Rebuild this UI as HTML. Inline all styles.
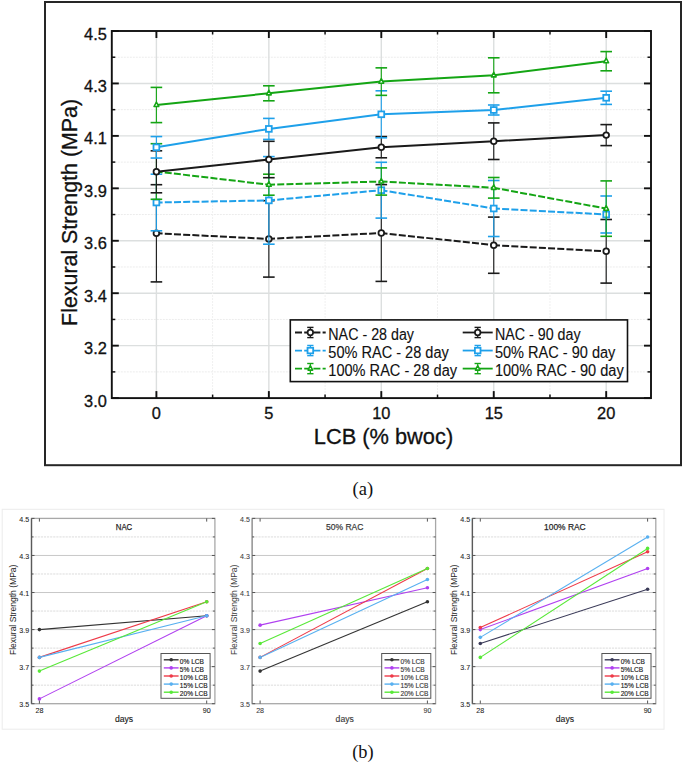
<!DOCTYPE html><html><head><meta charset="utf-8"><style>html,body{margin:0;padding:0;background:#fff}body{width:685px;height:764px;position:relative;overflow:hidden;font-family:"Liberation Sans",sans-serif}</style></head><body><svg width="685" height="764" viewBox="0 0 685 764" style="position:absolute;left:0;top:0">
<rect width="685" height="764" fill="#fff"/>
<rect x="45" y="2" width="636" height="463.2" fill="none" stroke="#262626" stroke-width="2"/>
<line x1="111.8" x2="651.0" y1="83.44" y2="83.44" stroke="#dcdfdf" stroke-width="1.4"/>
<line x1="111.8" x2="651.0" y1="135.89" y2="135.89" stroke="#dcdfdf" stroke-width="1.4"/>
<line x1="111.8" x2="651.0" y1="188.33" y2="188.33" stroke="#dcdfdf" stroke-width="1.4"/>
<line x1="111.8" x2="651.0" y1="240.77" y2="240.77" stroke="#dcdfdf" stroke-width="1.4"/>
<line x1="111.8" x2="651.0" y1="293.21" y2="293.21" stroke="#dcdfdf" stroke-width="1.4"/>
<line x1="111.8" x2="651.0" y1="345.66" y2="345.66" stroke="#dcdfdf" stroke-width="1.4"/>
<line x1="111.8" x2="651.0" y1="57.22" y2="57.22" stroke="#ececec" stroke-width="1" stroke-dasharray="2 1"/>
<line x1="111.8" x2="651.0" y1="109.66" y2="109.66" stroke="#ececec" stroke-width="1" stroke-dasharray="2 1"/>
<line x1="111.8" x2="651.0" y1="162.11" y2="162.11" stroke="#ececec" stroke-width="1" stroke-dasharray="2 1"/>
<line x1="111.8" x2="651.0" y1="214.55" y2="214.55" stroke="#ececec" stroke-width="1" stroke-dasharray="2 1"/>
<line x1="111.8" x2="651.0" y1="266.99" y2="266.99" stroke="#ececec" stroke-width="1" stroke-dasharray="2 1"/>
<line x1="111.8" x2="651.0" y1="319.44" y2="319.44" stroke="#ececec" stroke-width="1" stroke-dasharray="2 1"/>
<line x1="111.8" x2="651.0" y1="371.88" y2="371.88" stroke="#ececec" stroke-width="1" stroke-dasharray="2 1"/>
<line x1="156.40" x2="156.40" y1="31.0" y2="398.1" stroke="#dcdfdf" stroke-width="1.4"/>
<line x1="268.85" x2="268.85" y1="31.0" y2="398.1" stroke="#dcdfdf" stroke-width="1.4"/>
<line x1="381.30" x2="381.30" y1="31.0" y2="398.1" stroke="#dcdfdf" stroke-width="1.4"/>
<line x1="493.75" x2="493.75" y1="31.0" y2="398.1" stroke="#dcdfdf" stroke-width="1.4"/>
<line x1="606.20" x2="606.20" y1="31.0" y2="398.1" stroke="#dcdfdf" stroke-width="1.4"/>
<line x1="212.62" x2="212.62" y1="31.0" y2="398.1" stroke="#f0f0f0" stroke-width="1" stroke-dasharray="2 1"/>
<line x1="325.07" x2="325.07" y1="31.0" y2="398.1" stroke="#f0f0f0" stroke-width="1" stroke-dasharray="2 1"/>
<line x1="437.52" x2="437.52" y1="31.0" y2="398.1" stroke="#f0f0f0" stroke-width="1" stroke-dasharray="2 1"/>
<line x1="549.98" x2="549.98" y1="31.0" y2="398.1" stroke="#f0f0f0" stroke-width="1" stroke-dasharray="2 1"/>
<line x1="156.40" y1="233.30" x2="268.85" y2="238.90" stroke="#1a1a1a" stroke-width="2" stroke-dasharray="7 2.2" stroke-dashoffset="0.8"/>
<line x1="268.85" y1="238.90" x2="381.30" y2="233.00" stroke="#1a1a1a" stroke-width="2" stroke-dasharray="7 2.2" stroke-dashoffset="0.8"/>
<line x1="381.30" y1="233.00" x2="493.75" y2="245.20" stroke="#1a1a1a" stroke-width="2" stroke-dasharray="7 2.2" stroke-dashoffset="0.8"/>
<line x1="493.75" y1="245.20" x2="606.20" y2="251.30" stroke="#1a1a1a" stroke-width="2" stroke-dasharray="7 2.2" stroke-dashoffset="0.8"/>
<line x1="156.40" x2="156.40" y1="184.70" y2="281.90" stroke="#1a1a1a" stroke-width="1.1"/>
<line x1="150.60" x2="162.20" y1="184.70" y2="184.70" stroke="#1a1a1a" stroke-width="1.6"/>
<line x1="150.60" x2="162.20" y1="281.90" y2="281.90" stroke="#1a1a1a" stroke-width="1.6"/>
<line x1="268.85" x2="268.85" y1="200.70" y2="277.10" stroke="#1a1a1a" stroke-width="1.1"/>
<line x1="263.05" x2="274.65" y1="200.70" y2="200.70" stroke="#1a1a1a" stroke-width="1.6"/>
<line x1="263.05" x2="274.65" y1="277.10" y2="277.10" stroke="#1a1a1a" stroke-width="1.6"/>
<line x1="381.30" x2="381.30" y1="184.60" y2="281.40" stroke="#1a1a1a" stroke-width="1.1"/>
<line x1="375.50" x2="387.10" y1="184.60" y2="184.60" stroke="#1a1a1a" stroke-width="1.6"/>
<line x1="375.50" x2="387.10" y1="281.40" y2="281.40" stroke="#1a1a1a" stroke-width="1.6"/>
<line x1="493.75" x2="493.75" y1="217.10" y2="273.30" stroke="#1a1a1a" stroke-width="1.1"/>
<line x1="487.95" x2="499.55" y1="217.10" y2="217.10" stroke="#1a1a1a" stroke-width="1.6"/>
<line x1="487.95" x2="499.55" y1="273.30" y2="273.30" stroke="#1a1a1a" stroke-width="1.6"/>
<line x1="606.20" x2="606.20" y1="219.50" y2="283.10" stroke="#1a1a1a" stroke-width="1.1"/>
<line x1="600.40" x2="612.00" y1="219.50" y2="219.50" stroke="#1a1a1a" stroke-width="1.6"/>
<line x1="600.40" x2="612.00" y1="283.10" y2="283.10" stroke="#1a1a1a" stroke-width="1.6"/>
<circle cx="156.40" cy="233.30" r="2.85" fill="#fff" stroke="#1a1a1a" stroke-width="1.75"/>
<circle cx="268.85" cy="238.90" r="2.85" fill="#fff" stroke="#1a1a1a" stroke-width="1.75"/>
<circle cx="381.30" cy="233.00" r="2.85" fill="#fff" stroke="#1a1a1a" stroke-width="1.75"/>
<circle cx="493.75" cy="245.20" r="2.85" fill="#fff" stroke="#1a1a1a" stroke-width="1.75"/>
<circle cx="606.20" cy="251.30" r="2.85" fill="#fff" stroke="#1a1a1a" stroke-width="1.75"/>
<line x1="156.40" y1="202.50" x2="268.85" y2="200.40" stroke="#1ea0ea" stroke-width="2" stroke-dasharray="7 2.2" stroke-dashoffset="0.8"/>
<line x1="268.85" y1="200.40" x2="381.30" y2="190.20" stroke="#1ea0ea" stroke-width="2" stroke-dasharray="7 2.2" stroke-dashoffset="0.8"/>
<line x1="381.30" y1="190.20" x2="493.75" y2="208.50" stroke="#1ea0ea" stroke-width="2" stroke-dasharray="7 2.2" stroke-dashoffset="0.8"/>
<line x1="493.75" y1="208.50" x2="606.20" y2="214.50" stroke="#1ea0ea" stroke-width="2" stroke-dasharray="7 2.2" stroke-dashoffset="0.8"/>
<line x1="156.40" x2="156.40" y1="174.20" y2="230.80" stroke="#1ea0ea" stroke-width="1.1"/>
<line x1="150.60" x2="162.20" y1="174.20" y2="174.20" stroke="#1ea0ea" stroke-width="1.6"/>
<line x1="150.60" x2="162.20" y1="230.80" y2="230.80" stroke="#1ea0ea" stroke-width="1.6"/>
<line x1="268.85" x2="268.85" y1="156.60" y2="244.20" stroke="#1ea0ea" stroke-width="1.1"/>
<line x1="263.05" x2="274.65" y1="156.60" y2="156.60" stroke="#1ea0ea" stroke-width="1.6"/>
<line x1="263.05" x2="274.65" y1="244.20" y2="244.20" stroke="#1ea0ea" stroke-width="1.6"/>
<line x1="381.30" x2="381.30" y1="162.30" y2="218.10" stroke="#1ea0ea" stroke-width="1.1"/>
<line x1="375.50" x2="387.10" y1="162.30" y2="162.30" stroke="#1ea0ea" stroke-width="1.6"/>
<line x1="375.50" x2="387.10" y1="218.10" y2="218.10" stroke="#1ea0ea" stroke-width="1.6"/>
<line x1="493.75" x2="493.75" y1="180.50" y2="236.50" stroke="#1ea0ea" stroke-width="1.1"/>
<line x1="487.95" x2="499.55" y1="180.50" y2="180.50" stroke="#1ea0ea" stroke-width="1.6"/>
<line x1="487.95" x2="499.55" y1="236.50" y2="236.50" stroke="#1ea0ea" stroke-width="1.6"/>
<line x1="606.20" x2="606.20" y1="196.00" y2="233.00" stroke="#1ea0ea" stroke-width="1.1"/>
<line x1="600.40" x2="612.00" y1="196.00" y2="196.00" stroke="#1ea0ea" stroke-width="1.6"/>
<line x1="600.40" x2="612.00" y1="233.00" y2="233.00" stroke="#1ea0ea" stroke-width="1.6"/>
<rect x="153.50" y="199.60" width="5.80" height="5.80" fill="#fff" stroke="#1ea0ea" stroke-width="1.8"/>
<rect x="265.95" y="197.50" width="5.80" height="5.80" fill="#fff" stroke="#1ea0ea" stroke-width="1.8"/>
<rect x="378.40" y="187.30" width="5.80" height="5.80" fill="#fff" stroke="#1ea0ea" stroke-width="1.8"/>
<rect x="490.85" y="205.60" width="5.80" height="5.80" fill="#fff" stroke="#1ea0ea" stroke-width="1.8"/>
<rect x="603.30" y="211.60" width="5.80" height="5.80" fill="#fff" stroke="#1ea0ea" stroke-width="1.8"/>
<line x1="156.40" y1="171.50" x2="268.85" y2="184.70" stroke="#14a514" stroke-width="2" stroke-dasharray="7 2.2" stroke-dashoffset="0.8"/>
<line x1="268.85" y1="184.70" x2="381.30" y2="181.50" stroke="#14a514" stroke-width="2" stroke-dasharray="7 2.2" stroke-dashoffset="0.8"/>
<line x1="381.30" y1="181.50" x2="493.75" y2="187.80" stroke="#14a514" stroke-width="2" stroke-dasharray="7 2.2" stroke-dashoffset="0.8"/>
<line x1="493.75" y1="187.80" x2="606.20" y2="208.60" stroke="#14a514" stroke-width="2" stroke-dasharray="7 2.2" stroke-dashoffset="0.8"/>
<line x1="156.40" x2="156.40" y1="143.70" y2="199.30" stroke="#14a514" stroke-width="1.1"/>
<line x1="150.60" x2="162.20" y1="143.70" y2="143.70" stroke="#14a514" stroke-width="1.6"/>
<line x1="150.60" x2="162.20" y1="199.30" y2="199.30" stroke="#14a514" stroke-width="1.6"/>
<line x1="268.85" x2="268.85" y1="174.20" y2="195.20" stroke="#14a514" stroke-width="1.1"/>
<line x1="263.05" x2="274.65" y1="174.20" y2="174.20" stroke="#14a514" stroke-width="1.6"/>
<line x1="263.05" x2="274.65" y1="195.20" y2="195.20" stroke="#14a514" stroke-width="1.6"/>
<line x1="381.30" x2="381.30" y1="167.90" y2="195.10" stroke="#14a514" stroke-width="1.1"/>
<line x1="375.50" x2="387.10" y1="167.90" y2="167.90" stroke="#14a514" stroke-width="1.6"/>
<line x1="375.50" x2="387.10" y1="195.10" y2="195.10" stroke="#14a514" stroke-width="1.6"/>
<line x1="493.75" x2="493.75" y1="177.50" y2="198.10" stroke="#14a514" stroke-width="1.1"/>
<line x1="487.95" x2="499.55" y1="177.50" y2="177.50" stroke="#14a514" stroke-width="1.6"/>
<line x1="487.95" x2="499.55" y1="198.10" y2="198.10" stroke="#14a514" stroke-width="1.6"/>
<line x1="606.20" x2="606.20" y1="180.90" y2="236.30" stroke="#14a514" stroke-width="1.1"/>
<line x1="600.40" x2="612.00" y1="180.90" y2="180.90" stroke="#14a514" stroke-width="1.6"/>
<line x1="600.40" x2="612.00" y1="236.30" y2="236.30" stroke="#14a514" stroke-width="1.6"/>
<path d="M156.40 168.50L158.80 173.05L154.00 173.05Z" fill="#fff" stroke="#14a514" stroke-width="1.55" stroke-linejoin="round"/>
<path d="M268.85 181.70L271.25 186.25L266.45 186.25Z" fill="#fff" stroke="#14a514" stroke-width="1.55" stroke-linejoin="round"/>
<path d="M381.30 178.50L383.70 183.05L378.90 183.05Z" fill="#fff" stroke="#14a514" stroke-width="1.55" stroke-linejoin="round"/>
<path d="M493.75 184.80L496.15 189.35L491.35 189.35Z" fill="#fff" stroke="#14a514" stroke-width="1.55" stroke-linejoin="round"/>
<path d="M606.20 205.60L608.60 210.15L603.80 210.15Z" fill="#fff" stroke="#14a514" stroke-width="1.55" stroke-linejoin="round"/>
<polyline points="156.40,171.80 268.85,159.50 381.30,147.20 493.75,141.20 606.20,135.10" fill="none" stroke="#1a1a1a" stroke-width="2"/>
<line x1="156.40" x2="156.40" y1="150.80" y2="192.80" stroke="#1a1a1a" stroke-width="1.1"/>
<line x1="150.60" x2="162.20" y1="150.80" y2="150.80" stroke="#1a1a1a" stroke-width="1.6"/>
<line x1="150.60" x2="162.20" y1="192.80" y2="192.80" stroke="#1a1a1a" stroke-width="1.6"/>
<line x1="268.85" x2="268.85" y1="141.30" y2="177.70" stroke="#1a1a1a" stroke-width="1.1"/>
<line x1="263.05" x2="274.65" y1="141.30" y2="141.30" stroke="#1a1a1a" stroke-width="1.6"/>
<line x1="263.05" x2="274.65" y1="177.70" y2="177.70" stroke="#1a1a1a" stroke-width="1.6"/>
<line x1="381.30" x2="381.30" y1="136.60" y2="157.80" stroke="#1a1a1a" stroke-width="1.1"/>
<line x1="375.50" x2="387.10" y1="136.60" y2="136.60" stroke="#1a1a1a" stroke-width="1.6"/>
<line x1="375.50" x2="387.10" y1="157.80" y2="157.80" stroke="#1a1a1a" stroke-width="1.6"/>
<line x1="493.75" x2="493.75" y1="122.90" y2="159.50" stroke="#1a1a1a" stroke-width="1.1"/>
<line x1="487.95" x2="499.55" y1="122.90" y2="122.90" stroke="#1a1a1a" stroke-width="1.6"/>
<line x1="487.95" x2="499.55" y1="159.50" y2="159.50" stroke="#1a1a1a" stroke-width="1.6"/>
<line x1="606.20" x2="606.20" y1="124.60" y2="145.60" stroke="#1a1a1a" stroke-width="1.1"/>
<line x1="600.40" x2="612.00" y1="124.60" y2="124.60" stroke="#1a1a1a" stroke-width="1.6"/>
<line x1="600.40" x2="612.00" y1="145.60" y2="145.60" stroke="#1a1a1a" stroke-width="1.6"/>
<circle cx="156.40" cy="171.80" r="2.85" fill="#fff" stroke="#1a1a1a" stroke-width="1.75"/>
<circle cx="268.85" cy="159.50" r="2.85" fill="#fff" stroke="#1a1a1a" stroke-width="1.75"/>
<circle cx="381.30" cy="147.20" r="2.85" fill="#fff" stroke="#1a1a1a" stroke-width="1.75"/>
<circle cx="493.75" cy="141.20" r="2.85" fill="#fff" stroke="#1a1a1a" stroke-width="1.75"/>
<circle cx="606.20" cy="135.10" r="2.85" fill="#fff" stroke="#1a1a1a" stroke-width="1.75"/>
<polyline points="156.40,147.30 268.85,128.90 381.30,114.30 493.75,110.00 606.20,97.80" fill="none" stroke="#1ea0ea" stroke-width="2"/>
<line x1="156.40" x2="156.40" y1="136.55" y2="158.05" stroke="#1ea0ea" stroke-width="1.1"/>
<line x1="150.60" x2="162.20" y1="136.55" y2="136.55" stroke="#1ea0ea" stroke-width="1.6"/>
<line x1="150.60" x2="162.20" y1="158.05" y2="158.05" stroke="#1ea0ea" stroke-width="1.6"/>
<line x1="268.85" x2="268.85" y1="118.40" y2="139.40" stroke="#1ea0ea" stroke-width="1.1"/>
<line x1="263.05" x2="274.65" y1="118.40" y2="118.40" stroke="#1ea0ea" stroke-width="1.6"/>
<line x1="263.05" x2="274.65" y1="139.40" y2="139.40" stroke="#1ea0ea" stroke-width="1.6"/>
<line x1="381.30" x2="381.30" y1="90.80" y2="137.80" stroke="#1ea0ea" stroke-width="1.1"/>
<line x1="375.50" x2="387.10" y1="90.80" y2="90.80" stroke="#1ea0ea" stroke-width="1.6"/>
<line x1="375.50" x2="387.10" y1="137.80" y2="137.80" stroke="#1ea0ea" stroke-width="1.6"/>
<line x1="493.75" x2="493.75" y1="105.00" y2="115.00" stroke="#1ea0ea" stroke-width="1.1"/>
<line x1="487.95" x2="499.55" y1="105.00" y2="105.00" stroke="#1ea0ea" stroke-width="1.6"/>
<line x1="487.95" x2="499.55" y1="115.00" y2="115.00" stroke="#1ea0ea" stroke-width="1.6"/>
<line x1="606.20" x2="606.20" y1="91.20" y2="104.40" stroke="#1ea0ea" stroke-width="1.1"/>
<line x1="600.40" x2="612.00" y1="91.20" y2="91.20" stroke="#1ea0ea" stroke-width="1.6"/>
<line x1="600.40" x2="612.00" y1="104.40" y2="104.40" stroke="#1ea0ea" stroke-width="1.6"/>
<rect x="153.50" y="144.40" width="5.80" height="5.80" fill="#fff" stroke="#1ea0ea" stroke-width="1.8"/>
<rect x="265.95" y="126.00" width="5.80" height="5.80" fill="#fff" stroke="#1ea0ea" stroke-width="1.8"/>
<rect x="378.40" y="111.40" width="5.80" height="5.80" fill="#fff" stroke="#1ea0ea" stroke-width="1.8"/>
<rect x="490.85" y="107.10" width="5.80" height="5.80" fill="#fff" stroke="#1ea0ea" stroke-width="1.8"/>
<rect x="603.30" y="94.90" width="5.80" height="5.80" fill="#fff" stroke="#1ea0ea" stroke-width="1.8"/>
<polyline points="156.40,105.00 268.85,93.30 381.30,81.60 493.75,75.30 606.20,61.20" fill="none" stroke="#14a514" stroke-width="2"/>
<line x1="156.40" x2="156.40" y1="87.40" y2="122.60" stroke="#14a514" stroke-width="1.1"/>
<line x1="150.60" x2="162.20" y1="87.40" y2="87.40" stroke="#14a514" stroke-width="1.6"/>
<line x1="150.60" x2="162.20" y1="122.60" y2="122.60" stroke="#14a514" stroke-width="1.6"/>
<line x1="268.85" x2="268.85" y1="85.80" y2="100.80" stroke="#14a514" stroke-width="1.1"/>
<line x1="263.05" x2="274.65" y1="85.80" y2="85.80" stroke="#14a514" stroke-width="1.6"/>
<line x1="263.05" x2="274.65" y1="100.80" y2="100.80" stroke="#14a514" stroke-width="1.6"/>
<line x1="381.30" x2="381.30" y1="67.85" y2="95.35" stroke="#14a514" stroke-width="1.1"/>
<line x1="375.50" x2="387.10" y1="67.85" y2="67.85" stroke="#14a514" stroke-width="1.6"/>
<line x1="375.50" x2="387.10" y1="95.35" y2="95.35" stroke="#14a514" stroke-width="1.6"/>
<line x1="493.75" x2="493.75" y1="57.80" y2="92.80" stroke="#14a514" stroke-width="1.1"/>
<line x1="487.95" x2="499.55" y1="57.80" y2="57.80" stroke="#14a514" stroke-width="1.6"/>
<line x1="487.95" x2="499.55" y1="92.80" y2="92.80" stroke="#14a514" stroke-width="1.6"/>
<line x1="606.20" x2="606.20" y1="51.60" y2="70.80" stroke="#14a514" stroke-width="1.1"/>
<line x1="600.40" x2="612.00" y1="51.60" y2="51.60" stroke="#14a514" stroke-width="1.6"/>
<line x1="600.40" x2="612.00" y1="70.80" y2="70.80" stroke="#14a514" stroke-width="1.6"/>
<path d="M156.40 102.00L158.80 106.55L154.00 106.55Z" fill="#fff" stroke="#14a514" stroke-width="1.55" stroke-linejoin="round"/>
<path d="M268.85 90.30L271.25 94.85L266.45 94.85Z" fill="#fff" stroke="#14a514" stroke-width="1.55" stroke-linejoin="round"/>
<path d="M381.30 78.60L383.70 83.15L378.90 83.15Z" fill="#fff" stroke="#14a514" stroke-width="1.55" stroke-linejoin="round"/>
<path d="M493.75 72.30L496.15 76.85L491.35 76.85Z" fill="#fff" stroke="#14a514" stroke-width="1.55" stroke-linejoin="round"/>
<path d="M606.20 58.20L608.60 62.75L603.80 62.75Z" fill="#fff" stroke="#14a514" stroke-width="1.55" stroke-linejoin="round"/>
<rect x="111.8" y="31.0" width="539.20" height="367.10" fill="none" stroke="#111" stroke-width="1.9"/>
<line x1="111.8" x2="118.8" y1="31.00" y2="31.00" stroke="#111" stroke-width="1.9"/>
<line x1="644.0" x2="651.0" y1="31.00" y2="31.00" stroke="#111" stroke-width="1.9"/>
<line x1="111.8" x2="118.8" y1="83.44" y2="83.44" stroke="#111" stroke-width="1.9"/>
<line x1="644.0" x2="651.0" y1="83.44" y2="83.44" stroke="#111" stroke-width="1.9"/>
<line x1="111.8" x2="118.8" y1="135.89" y2="135.89" stroke="#111" stroke-width="1.9"/>
<line x1="644.0" x2="651.0" y1="135.89" y2="135.89" stroke="#111" stroke-width="1.9"/>
<line x1="111.8" x2="118.8" y1="188.33" y2="188.33" stroke="#111" stroke-width="1.9"/>
<line x1="644.0" x2="651.0" y1="188.33" y2="188.33" stroke="#111" stroke-width="1.9"/>
<line x1="111.8" x2="118.8" y1="240.77" y2="240.77" stroke="#111" stroke-width="1.9"/>
<line x1="644.0" x2="651.0" y1="240.77" y2="240.77" stroke="#111" stroke-width="1.9"/>
<line x1="111.8" x2="118.8" y1="293.21" y2="293.21" stroke="#111" stroke-width="1.9"/>
<line x1="644.0" x2="651.0" y1="293.21" y2="293.21" stroke="#111" stroke-width="1.9"/>
<line x1="111.8" x2="118.8" y1="345.66" y2="345.66" stroke="#111" stroke-width="1.9"/>
<line x1="644.0" x2="651.0" y1="345.66" y2="345.66" stroke="#111" stroke-width="1.9"/>
<line x1="111.8" x2="118.8" y1="398.10" y2="398.10" stroke="#111" stroke-width="1.9"/>
<line x1="644.0" x2="651.0" y1="398.10" y2="398.10" stroke="#111" stroke-width="1.9"/>
<line x1="111.8" x2="115.3" y1="57.22" y2="57.22" stroke="#111" stroke-width="1.5"/>
<line x1="647.5" x2="651.0" y1="57.22" y2="57.22" stroke="#111" stroke-width="1.5"/>
<line x1="111.8" x2="115.3" y1="109.66" y2="109.66" stroke="#111" stroke-width="1.5"/>
<line x1="647.5" x2="651.0" y1="109.66" y2="109.66" stroke="#111" stroke-width="1.5"/>
<line x1="111.8" x2="115.3" y1="162.11" y2="162.11" stroke="#111" stroke-width="1.5"/>
<line x1="647.5" x2="651.0" y1="162.11" y2="162.11" stroke="#111" stroke-width="1.5"/>
<line x1="111.8" x2="115.3" y1="214.55" y2="214.55" stroke="#111" stroke-width="1.5"/>
<line x1="647.5" x2="651.0" y1="214.55" y2="214.55" stroke="#111" stroke-width="1.5"/>
<line x1="111.8" x2="115.3" y1="266.99" y2="266.99" stroke="#111" stroke-width="1.5"/>
<line x1="647.5" x2="651.0" y1="266.99" y2="266.99" stroke="#111" stroke-width="1.5"/>
<line x1="111.8" x2="115.3" y1="319.44" y2="319.44" stroke="#111" stroke-width="1.5"/>
<line x1="647.5" x2="651.0" y1="319.44" y2="319.44" stroke="#111" stroke-width="1.5"/>
<line x1="111.8" x2="115.3" y1="371.88" y2="371.88" stroke="#111" stroke-width="1.5"/>
<line x1="647.5" x2="651.0" y1="371.88" y2="371.88" stroke="#111" stroke-width="1.5"/>
<line x1="156.40" x2="156.40" y1="31.0" y2="38.0" stroke="#111" stroke-width="1.9"/>
<line x1="156.40" x2="156.40" y1="391.1" y2="398.1" stroke="#111" stroke-width="1.9"/>
<line x1="268.85" x2="268.85" y1="31.0" y2="38.0" stroke="#111" stroke-width="1.9"/>
<line x1="268.85" x2="268.85" y1="391.1" y2="398.1" stroke="#111" stroke-width="1.9"/>
<line x1="381.30" x2="381.30" y1="31.0" y2="38.0" stroke="#111" stroke-width="1.9"/>
<line x1="381.30" x2="381.30" y1="391.1" y2="398.1" stroke="#111" stroke-width="1.9"/>
<line x1="493.75" x2="493.75" y1="31.0" y2="38.0" stroke="#111" stroke-width="1.9"/>
<line x1="493.75" x2="493.75" y1="391.1" y2="398.1" stroke="#111" stroke-width="1.9"/>
<line x1="606.20" x2="606.20" y1="31.0" y2="38.0" stroke="#111" stroke-width="1.9"/>
<line x1="606.20" x2="606.20" y1="391.1" y2="398.1" stroke="#111" stroke-width="1.9"/>
<line x1="212.62" x2="212.62" y1="31.0" y2="34.5" stroke="#111" stroke-width="1.5"/>
<line x1="212.62" x2="212.62" y1="394.6" y2="398.1" stroke="#111" stroke-width="1.5"/>
<line x1="325.07" x2="325.07" y1="31.0" y2="34.5" stroke="#111" stroke-width="1.5"/>
<line x1="325.07" x2="325.07" y1="394.6" y2="398.1" stroke="#111" stroke-width="1.5"/>
<line x1="437.52" x2="437.52" y1="31.0" y2="34.5" stroke="#111" stroke-width="1.5"/>
<line x1="437.52" x2="437.52" y1="394.6" y2="398.1" stroke="#111" stroke-width="1.5"/>
<line x1="549.98" x2="549.98" y1="31.0" y2="34.5" stroke="#111" stroke-width="1.5"/>
<line x1="549.98" x2="549.98" y1="394.6" y2="398.1" stroke="#111" stroke-width="1.5"/>
<text x="106.9" y="39.60" font-family="Liberation Sans, sans-serif" font-size="16.4" text-anchor="end" fill="#111" stroke="#111" stroke-width="0.3">4.5</text>
<text x="106.9" y="92.04" font-family="Liberation Sans, sans-serif" font-size="16.4" text-anchor="end" fill="#111" stroke="#111" stroke-width="0.3">4.3</text>
<text x="106.9" y="144.49" font-family="Liberation Sans, sans-serif" font-size="16.4" text-anchor="end" fill="#111" stroke="#111" stroke-width="0.3">4.1</text>
<text x="106.9" y="196.93" font-family="Liberation Sans, sans-serif" font-size="16.4" text-anchor="end" fill="#111" stroke="#111" stroke-width="0.3">3.9</text>
<text x="106.9" y="249.37" font-family="Liberation Sans, sans-serif" font-size="16.4" text-anchor="end" fill="#111" stroke="#111" stroke-width="0.3">3.6</text>
<text x="106.9" y="301.81" font-family="Liberation Sans, sans-serif" font-size="16.4" text-anchor="end" fill="#111" stroke="#111" stroke-width="0.3">3.4</text>
<text x="106.9" y="354.26" font-family="Liberation Sans, sans-serif" font-size="16.4" text-anchor="end" fill="#111" stroke="#111" stroke-width="0.3">3.2</text>
<text x="106.9" y="406.70" font-family="Liberation Sans, sans-serif" font-size="16.4" text-anchor="end" fill="#111" stroke="#111" stroke-width="0.3">3.0</text>
<text x="156.40" y="419.4" font-family="Liberation Sans, sans-serif" font-size="16.4" text-anchor="middle" fill="#111" stroke="#111" stroke-width="0.3">0</text>
<text x="268.85" y="419.4" font-family="Liberation Sans, sans-serif" font-size="16.4" text-anchor="middle" fill="#111" stroke="#111" stroke-width="0.3">5</text>
<text x="381.30" y="419.4" font-family="Liberation Sans, sans-serif" font-size="16.4" text-anchor="middle" fill="#111" stroke="#111" stroke-width="0.3">10</text>
<text x="493.75" y="419.4" font-family="Liberation Sans, sans-serif" font-size="16.4" text-anchor="middle" fill="#111" stroke="#111" stroke-width="0.3">15</text>
<text x="606.20" y="419.4" font-family="Liberation Sans, sans-serif" font-size="16.4" text-anchor="middle" fill="#111" stroke="#111" stroke-width="0.3">20</text>
<text x="383.5" y="444" font-family="Liberation Sans, sans-serif" font-size="21.8" text-anchor="middle" fill="#111" stroke="#111" stroke-width="0.3">LCB (% bwoc)</text>
<text transform="translate(76.9,212.4) rotate(-90)" x="0" y="0" font-family="Liberation Sans, sans-serif" font-size="21.8" text-anchor="middle" fill="#111" stroke="#111" stroke-width="0.3" textLength="227" lengthAdjust="spacingAndGlyphs">Flexural Strength (MPa)</text>
<rect x="290.3" y="319.9" width="337.20" height="61.70" fill="#fff" stroke="#111" stroke-width="1.6"/>
<line x1="295" x2="325.7" y1="332.5" y2="332.5" stroke="#1a1a1a" stroke-width="1.8" stroke-dasharray="7 2.2"/>
<line x1="310.35" x2="310.35" y1="327.4" y2="337.6" stroke="#1a1a1a" stroke-width="1.2"/>
<line x1="307.20000000000005" x2="313.5" y1="327.4" y2="327.4" stroke="#1a1a1a" stroke-width="1.4"/>
<line x1="307.20000000000005" x2="313.5" y1="337.6" y2="337.6" stroke="#1a1a1a" stroke-width="1.4"/>
<circle cx="310.35" cy="332.50" r="2.76" fill="#fff" stroke="#1a1a1a" stroke-width="1.75"/>
<text x="328.3" y="339.80" font-family="Liberation Sans, sans-serif" font-size="15.8" fill="#111" stroke="#111" stroke-width="0.12" textLength="85.7" lengthAdjust="spacingAndGlyphs">NAC - 28 day</text>
<line x1="295" x2="325.7" y1="350.55" y2="350.55" stroke="#1ea0ea" stroke-width="1.8" stroke-dasharray="7 2.2"/>
<line x1="310.35" x2="310.35" y1="345.45" y2="355.65000000000003" stroke="#1ea0ea" stroke-width="1.2"/>
<line x1="307.20000000000005" x2="313.5" y1="345.45" y2="345.45" stroke="#1ea0ea" stroke-width="1.4"/>
<line x1="307.20000000000005" x2="313.5" y1="355.65000000000003" y2="355.65000000000003" stroke="#1ea0ea" stroke-width="1.4"/>
<rect x="307.54" y="347.74" width="5.63" height="5.63" fill="#fff" stroke="#1ea0ea" stroke-width="1.8"/>
<text x="328.3" y="357.85" font-family="Liberation Sans, sans-serif" font-size="15.8" fill="#111" stroke="#111" stroke-width="0.12" textLength="120.5" lengthAdjust="spacingAndGlyphs">50% RAC - 28 day</text>
<line x1="295" x2="325.7" y1="368.6" y2="368.6" stroke="#14a514" stroke-width="1.8" stroke-dasharray="7 2.2"/>
<line x1="310.35" x2="310.35" y1="363.5" y2="373.70000000000005" stroke="#14a514" stroke-width="1.2"/>
<line x1="307.20000000000005" x2="313.5" y1="363.5" y2="363.5" stroke="#14a514" stroke-width="1.4"/>
<line x1="307.20000000000005" x2="313.5" y1="373.70000000000005" y2="373.70000000000005" stroke="#14a514" stroke-width="1.4"/>
<path d="M310.35 365.69L312.68 370.10L308.02 370.10Z" fill="#fff" stroke="#14a514" stroke-width="1.55" stroke-linejoin="round"/>
<text x="328.3" y="375.90" font-family="Liberation Sans, sans-serif" font-size="15.8" fill="#111" stroke="#111" stroke-width="0.12" textLength="128.8" lengthAdjust="spacingAndGlyphs">100% RAC - 28 day</text>
<line x1="462.7" x2="492.7" y1="332.5" y2="332.5" stroke="#1a1a1a" stroke-width="1.8"/>
<line x1="477.7" x2="477.7" y1="327.4" y2="337.6" stroke="#1a1a1a" stroke-width="1.2"/>
<line x1="474.55" x2="480.84999999999997" y1="327.4" y2="327.4" stroke="#1a1a1a" stroke-width="1.4"/>
<line x1="474.55" x2="480.84999999999997" y1="337.6" y2="337.6" stroke="#1a1a1a" stroke-width="1.4"/>
<circle cx="477.70" cy="332.50" r="2.76" fill="#fff" stroke="#1a1a1a" stroke-width="1.75"/>
<text x="494.9" y="339.80" font-family="Liberation Sans, sans-serif" font-size="15.8" fill="#111" stroke="#111" stroke-width="0.12" textLength="85.7" lengthAdjust="spacingAndGlyphs">NAC - 90 day</text>
<line x1="462.7" x2="492.7" y1="350.55" y2="350.55" stroke="#1ea0ea" stroke-width="1.8"/>
<line x1="477.7" x2="477.7" y1="345.45" y2="355.65000000000003" stroke="#1ea0ea" stroke-width="1.2"/>
<line x1="474.55" x2="480.84999999999997" y1="345.45" y2="345.45" stroke="#1ea0ea" stroke-width="1.4"/>
<line x1="474.55" x2="480.84999999999997" y1="355.65000000000003" y2="355.65000000000003" stroke="#1ea0ea" stroke-width="1.4"/>
<rect x="474.89" y="347.74" width="5.63" height="5.63" fill="#fff" stroke="#1ea0ea" stroke-width="1.8"/>
<text x="494.9" y="357.85" font-family="Liberation Sans, sans-serif" font-size="15.8" fill="#111" stroke="#111" stroke-width="0.12" textLength="120.5" lengthAdjust="spacingAndGlyphs">50% RAC - 90 day</text>
<line x1="462.7" x2="492.7" y1="368.6" y2="368.6" stroke="#14a514" stroke-width="1.8"/>
<line x1="477.7" x2="477.7" y1="363.5" y2="373.70000000000005" stroke="#14a514" stroke-width="1.2"/>
<line x1="474.55" x2="480.84999999999997" y1="363.5" y2="363.5" stroke="#14a514" stroke-width="1.4"/>
<line x1="474.55" x2="480.84999999999997" y1="373.70000000000005" y2="373.70000000000005" stroke="#14a514" stroke-width="1.4"/>
<path d="M477.70 365.69L480.03 370.10L475.37 370.10Z" fill="#fff" stroke="#14a514" stroke-width="1.55" stroke-linejoin="round"/>
<text x="494.9" y="375.90" font-family="Liberation Sans, sans-serif" font-size="15.8" fill="#111" stroke="#111" stroke-width="0.12" textLength="128.8" lengthAdjust="spacingAndGlyphs">100% RAC - 90 day</text>
<text x="362.9" y="494.6" font-family="Liberation Serif, serif" font-size="18.6" text-anchor="middle" fill="#111" textLength="20.6" lengthAdjust="spacingAndGlyphs">(a)</text>
<text x="362.9" y="758.2" font-family="Liberation Serif, serif" font-size="18.6" text-anchor="middle" fill="#111" textLength="21.4" lengthAdjust="spacingAndGlyphs">(b)</text>
<rect x="2.2" y="509.3" width="661.8" height="219.9" fill="none" stroke="#ececec" stroke-width="1"/>
<line x1="31.5" x2="214.9" y1="685.17" y2="685.17" stroke="#dcdcdc" stroke-width="1" stroke-dasharray="2.2 0.9"/>
<line x1="31.5" x2="214.9" y1="666.64" y2="666.64" stroke="#c8c8c8" stroke-width="1"/>
<line x1="31.5" x2="214.9" y1="648.11" y2="648.11" stroke="#dcdcdc" stroke-width="1" stroke-dasharray="2.2 0.9"/>
<line x1="31.5" x2="214.9" y1="629.58" y2="629.58" stroke="#c8c8c8" stroke-width="1"/>
<line x1="31.5" x2="214.9" y1="611.05" y2="611.05" stroke="#dcdcdc" stroke-width="1" stroke-dasharray="2.2 0.9"/>
<line x1="31.5" x2="214.9" y1="592.52" y2="592.52" stroke="#c8c8c8" stroke-width="1"/>
<line x1="31.5" x2="214.9" y1="573.99" y2="573.99" stroke="#dcdcdc" stroke-width="1" stroke-dasharray="2.2 0.9"/>
<line x1="31.5" x2="214.9" y1="555.46" y2="555.46" stroke="#c8c8c8" stroke-width="1"/>
<line x1="31.5" x2="214.9" y1="536.93" y2="536.93" stroke="#dcdcdc" stroke-width="1" stroke-dasharray="2.2 0.9"/>
<line x1="39.40" y1="629.58" x2="206.70" y2="615.68" stroke="#333333" stroke-width="1.1"/>
<line x1="39.40" y1="698.88" x2="206.70" y2="615.68" stroke="#b040f0" stroke-width="1.1"/>
<line x1="39.40" y1="657.38" x2="206.70" y2="601.79" stroke="#ee3a48" stroke-width="1.1"/>
<line x1="39.40" y1="657.38" x2="206.70" y2="615.68" stroke="#58b0f0" stroke-width="1.1"/>
<line x1="39.40" y1="671.09" x2="206.70" y2="601.79" stroke="#58e838" stroke-width="1.1"/>
<circle cx="39.40" cy="629.58" r="1.8" fill="#333333"/>
<circle cx="206.70" cy="615.68" r="1.8" fill="#333333"/>
<circle cx="39.40" cy="698.88" r="1.8" fill="#b040f0"/>
<circle cx="206.70" cy="615.68" r="1.8" fill="#b040f0"/>
<circle cx="39.40" cy="657.38" r="1.8" fill="#ee3a48"/>
<circle cx="206.70" cy="601.79" r="1.8" fill="#ee3a48"/>
<circle cx="39.40" cy="657.38" r="1.8" fill="#58b0f0"/>
<circle cx="206.70" cy="615.68" r="1.8" fill="#58b0f0"/>
<circle cx="39.40" cy="671.09" r="1.8" fill="#58e838"/>
<circle cx="206.70" cy="601.79" r="1.8" fill="#58e838"/>
<rect x="31.5" y="518.4" width="183.4" height="185.30" fill="none" stroke="#a8a8a8" stroke-width="1.3"/>
<line x1="31.5" x2="31.5" y1="518.4" y2="703.7" stroke="#5a5a5a" stroke-width="1.3"/>
<line x1="31.5" x2="34.5" y1="703.70" y2="703.70" stroke="#555" stroke-width="1"/>
<line x1="211.9" x2="214.9" y1="703.70" y2="703.70" stroke="#555" stroke-width="1"/>
<line x1="31.5" x2="33.5" y1="685.17" y2="685.17" stroke="#555" stroke-width="1"/>
<line x1="212.9" x2="214.9" y1="685.17" y2="685.17" stroke="#555" stroke-width="1"/>
<line x1="31.5" x2="34.5" y1="666.64" y2="666.64" stroke="#555" stroke-width="1"/>
<line x1="211.9" x2="214.9" y1="666.64" y2="666.64" stroke="#555" stroke-width="1"/>
<line x1="31.5" x2="33.5" y1="648.11" y2="648.11" stroke="#555" stroke-width="1"/>
<line x1="212.9" x2="214.9" y1="648.11" y2="648.11" stroke="#555" stroke-width="1"/>
<line x1="31.5" x2="34.5" y1="629.58" y2="629.58" stroke="#555" stroke-width="1"/>
<line x1="211.9" x2="214.9" y1="629.58" y2="629.58" stroke="#555" stroke-width="1"/>
<line x1="31.5" x2="33.5" y1="611.05" y2="611.05" stroke="#555" stroke-width="1"/>
<line x1="212.9" x2="214.9" y1="611.05" y2="611.05" stroke="#555" stroke-width="1"/>
<line x1="31.5" x2="34.5" y1="592.52" y2="592.52" stroke="#555" stroke-width="1"/>
<line x1="211.9" x2="214.9" y1="592.52" y2="592.52" stroke="#555" stroke-width="1"/>
<line x1="31.5" x2="33.5" y1="573.99" y2="573.99" stroke="#555" stroke-width="1"/>
<line x1="212.9" x2="214.9" y1="573.99" y2="573.99" stroke="#555" stroke-width="1"/>
<line x1="31.5" x2="34.5" y1="555.46" y2="555.46" stroke="#555" stroke-width="1"/>
<line x1="211.9" x2="214.9" y1="555.46" y2="555.46" stroke="#555" stroke-width="1"/>
<line x1="31.5" x2="33.5" y1="536.93" y2="536.93" stroke="#555" stroke-width="1"/>
<line x1="212.9" x2="214.9" y1="536.93" y2="536.93" stroke="#555" stroke-width="1"/>
<line x1="31.5" x2="34.5" y1="518.40" y2="518.40" stroke="#555" stroke-width="1"/>
<line x1="211.9" x2="214.9" y1="518.40" y2="518.40" stroke="#555" stroke-width="1"/>
<line x1="39.40" x2="39.40" y1="518.4" y2="521.6" stroke="#555" stroke-width="1"/>
<line x1="39.40" x2="39.40" y1="700.5" y2="703.7" stroke="#555" stroke-width="1"/>
<line x1="206.70" x2="206.70" y1="518.4" y2="521.6" stroke="#555" stroke-width="1"/>
<line x1="206.70" x2="206.70" y1="700.5" y2="703.7" stroke="#555" stroke-width="1"/>
<text x="29.20" y="707.10" font-family="Liberation Sans, sans-serif" font-size="7.1" text-anchor="end" fill="#1c1c1c" stroke="#1c1c1c" stroke-width="0.08">3.5</text>
<text x="29.20" y="670.04" font-family="Liberation Sans, sans-serif" font-size="7.1" text-anchor="end" fill="#1c1c1c" stroke="#1c1c1c" stroke-width="0.08">3.7</text>
<text x="29.20" y="632.98" font-family="Liberation Sans, sans-serif" font-size="7.1" text-anchor="end" fill="#1c1c1c" stroke="#1c1c1c" stroke-width="0.08">3.9</text>
<text x="29.20" y="595.92" font-family="Liberation Sans, sans-serif" font-size="7.1" text-anchor="end" fill="#1c1c1c" stroke="#1c1c1c" stroke-width="0.08">4.1</text>
<text x="29.20" y="558.86" font-family="Liberation Sans, sans-serif" font-size="7.1" text-anchor="end" fill="#1c1c1c" stroke="#1c1c1c" stroke-width="0.08">4.3</text>
<text x="29.20" y="521.80" font-family="Liberation Sans, sans-serif" font-size="7.1" text-anchor="end" fill="#1c1c1c" stroke="#1c1c1c" stroke-width="0.08">4.5</text>
<text x="39.40" y="713.4" font-family="Liberation Sans, sans-serif" font-size="7.1" text-anchor="middle" fill="#1c1c1c" stroke="#1c1c1c" stroke-width="0.08">28</text>
<text x="206.70" y="713.4" font-family="Liberation Sans, sans-serif" font-size="7.1" text-anchor="middle" fill="#1c1c1c" stroke="#1c1c1c" stroke-width="0.08">90</text>
<text x="124.00" y="722.3" font-family="Liberation Sans, sans-serif" font-size="9.6" text-anchor="middle" fill="#1c1c1c" stroke="#1c1c1c" stroke-width="0.15" textLength="18.2" lengthAdjust="spacingAndGlyphs">days</text>
<text x="124.00" y="529.5" font-family="Liberation Sans, sans-serif" font-size="9.9" text-anchor="middle" fill="#1c1c1c" stroke="#1c1c1c" stroke-width="0.25" textLength="16.4" lengthAdjust="spacingAndGlyphs">NAC</text>
<text transform="translate(16.20,609.80) rotate(-90)" font-family="Liberation Sans, sans-serif" font-size="8.6" text-anchor="middle" fill="#1c1c1c" textLength="90.5" lengthAdjust="spacingAndGlyphs">Flexural Strength (MPa)</text>
<rect x="161.00" y="653.5" width="49.10" height="44.80" fill="#fff" stroke="#555" stroke-width="1"/>
<line x1="163.80" x2="178.60" y1="659.80" y2="659.80" stroke="#333333" stroke-width="1.4"/>
<circle cx="171.20" cy="659.80" r="1.8" fill="#333333"/>
<text x="179.80" y="663.50" font-family="Liberation Sans, sans-serif" font-size="6.6" fill="#1c1c1c" stroke="#1c1c1c" stroke-width="0.15">0% LCB</text>
<line x1="163.80" x2="178.60" y1="667.90" y2="667.90" stroke="#b040f0" stroke-width="1.4"/>
<circle cx="171.20" cy="667.90" r="1.8" fill="#b040f0"/>
<text x="179.80" y="671.60" font-family="Liberation Sans, sans-serif" font-size="6.6" fill="#1c1c1c" stroke="#1c1c1c" stroke-width="0.15">5% LCB</text>
<line x1="163.80" x2="178.60" y1="676.00" y2="676.00" stroke="#ee3a48" stroke-width="1.4"/>
<circle cx="171.20" cy="676.00" r="1.8" fill="#ee3a48"/>
<text x="179.80" y="679.70" font-family="Liberation Sans, sans-serif" font-size="6.6" fill="#1c1c1c" stroke="#1c1c1c" stroke-width="0.15">10% LCB</text>
<line x1="163.80" x2="178.60" y1="684.10" y2="684.10" stroke="#58b0f0" stroke-width="1.4"/>
<circle cx="171.20" cy="684.10" r="1.8" fill="#58b0f0"/>
<text x="179.80" y="687.80" font-family="Liberation Sans, sans-serif" font-size="6.6" fill="#1c1c1c" stroke="#1c1c1c" stroke-width="0.15">15% LCB</text>
<line x1="163.80" x2="178.60" y1="692.20" y2="692.20" stroke="#58e838" stroke-width="1.4"/>
<circle cx="171.20" cy="692.20" r="1.8" fill="#58e838"/>
<text x="179.80" y="695.90" font-family="Liberation Sans, sans-serif" font-size="6.6" fill="#1c1c1c" stroke="#1c1c1c" stroke-width="0.15">20% LCB</text>
<line x1="252.2" x2="435.6" y1="685.17" y2="685.17" stroke="#dcdcdc" stroke-width="1" stroke-dasharray="2.2 0.9"/>
<line x1="252.2" x2="435.6" y1="666.64" y2="666.64" stroke="#c8c8c8" stroke-width="1"/>
<line x1="252.2" x2="435.6" y1="648.11" y2="648.11" stroke="#dcdcdc" stroke-width="1" stroke-dasharray="2.2 0.9"/>
<line x1="252.2" x2="435.6" y1="629.58" y2="629.58" stroke="#c8c8c8" stroke-width="1"/>
<line x1="252.2" x2="435.6" y1="611.05" y2="611.05" stroke="#dcdcdc" stroke-width="1" stroke-dasharray="2.2 0.9"/>
<line x1="252.2" x2="435.6" y1="592.52" y2="592.52" stroke="#c8c8c8" stroke-width="1"/>
<line x1="252.2" x2="435.6" y1="573.99" y2="573.99" stroke="#dcdcdc" stroke-width="1" stroke-dasharray="2.2 0.9"/>
<line x1="252.2" x2="435.6" y1="555.46" y2="555.46" stroke="#c8c8c8" stroke-width="1"/>
<line x1="252.2" x2="435.6" y1="536.93" y2="536.93" stroke="#dcdcdc" stroke-width="1" stroke-dasharray="2.2 0.9"/>
<line x1="260.10" y1="671.09" x2="427.40" y2="601.79" stroke="#333333" stroke-width="1.1"/>
<line x1="260.10" y1="625.13" x2="427.40" y2="587.70" stroke="#b040f0" stroke-width="1.1"/>
<line x1="260.10" y1="657.38" x2="427.40" y2="568.43" stroke="#ee3a48" stroke-width="1.1"/>
<line x1="260.10" y1="657.38" x2="427.40" y2="579.55" stroke="#58b0f0" stroke-width="1.1"/>
<line x1="260.10" y1="643.48" x2="427.40" y2="568.43" stroke="#58e838" stroke-width="1.1"/>
<circle cx="260.10" cy="671.09" r="1.8" fill="#333333"/>
<circle cx="427.40" cy="601.79" r="1.8" fill="#333333"/>
<circle cx="260.10" cy="625.13" r="1.8" fill="#b040f0"/>
<circle cx="427.40" cy="587.70" r="1.8" fill="#b040f0"/>
<circle cx="260.10" cy="657.38" r="1.8" fill="#ee3a48"/>
<circle cx="427.40" cy="568.43" r="1.8" fill="#ee3a48"/>
<circle cx="260.10" cy="657.38" r="1.8" fill="#58b0f0"/>
<circle cx="427.40" cy="579.55" r="1.8" fill="#58b0f0"/>
<circle cx="260.10" cy="643.48" r="1.8" fill="#58e838"/>
<circle cx="427.40" cy="568.43" r="1.8" fill="#58e838"/>
<rect x="252.2" y="518.4" width="183.4" height="185.30" fill="none" stroke="#a8a8a8" stroke-width="1.3"/>
<line x1="252.2" x2="252.2" y1="518.4" y2="703.7" stroke="#9a9a9a" stroke-width="1.3"/>
<line x1="252.2" x2="255.2" y1="703.70" y2="703.70" stroke="#555" stroke-width="1"/>
<line x1="432.6" x2="435.6" y1="703.70" y2="703.70" stroke="#555" stroke-width="1"/>
<line x1="252.2" x2="254.2" y1="685.17" y2="685.17" stroke="#555" stroke-width="1"/>
<line x1="433.6" x2="435.6" y1="685.17" y2="685.17" stroke="#555" stroke-width="1"/>
<line x1="252.2" x2="255.2" y1="666.64" y2="666.64" stroke="#555" stroke-width="1"/>
<line x1="432.6" x2="435.6" y1="666.64" y2="666.64" stroke="#555" stroke-width="1"/>
<line x1="252.2" x2="254.2" y1="648.11" y2="648.11" stroke="#555" stroke-width="1"/>
<line x1="433.6" x2="435.6" y1="648.11" y2="648.11" stroke="#555" stroke-width="1"/>
<line x1="252.2" x2="255.2" y1="629.58" y2="629.58" stroke="#555" stroke-width="1"/>
<line x1="432.6" x2="435.6" y1="629.58" y2="629.58" stroke="#555" stroke-width="1"/>
<line x1="252.2" x2="254.2" y1="611.05" y2="611.05" stroke="#555" stroke-width="1"/>
<line x1="433.6" x2="435.6" y1="611.05" y2="611.05" stroke="#555" stroke-width="1"/>
<line x1="252.2" x2="255.2" y1="592.52" y2="592.52" stroke="#555" stroke-width="1"/>
<line x1="432.6" x2="435.6" y1="592.52" y2="592.52" stroke="#555" stroke-width="1"/>
<line x1="252.2" x2="254.2" y1="573.99" y2="573.99" stroke="#555" stroke-width="1"/>
<line x1="433.6" x2="435.6" y1="573.99" y2="573.99" stroke="#555" stroke-width="1"/>
<line x1="252.2" x2="255.2" y1="555.46" y2="555.46" stroke="#555" stroke-width="1"/>
<line x1="432.6" x2="435.6" y1="555.46" y2="555.46" stroke="#555" stroke-width="1"/>
<line x1="252.2" x2="254.2" y1="536.93" y2="536.93" stroke="#555" stroke-width="1"/>
<line x1="433.6" x2="435.6" y1="536.93" y2="536.93" stroke="#555" stroke-width="1"/>
<line x1="252.2" x2="255.2" y1="518.40" y2="518.40" stroke="#555" stroke-width="1"/>
<line x1="432.6" x2="435.6" y1="518.40" y2="518.40" stroke="#555" stroke-width="1"/>
<line x1="260.10" x2="260.10" y1="518.4" y2="521.6" stroke="#555" stroke-width="1"/>
<line x1="260.10" x2="260.10" y1="700.5" y2="703.7" stroke="#555" stroke-width="1"/>
<line x1="427.40" x2="427.40" y1="518.4" y2="521.6" stroke="#555" stroke-width="1"/>
<line x1="427.40" x2="427.40" y1="700.5" y2="703.7" stroke="#555" stroke-width="1"/>
<text x="249.90" y="707.10" font-family="Liberation Sans, sans-serif" font-size="7.1" text-anchor="end" fill="#3c3c3c" stroke="#3c3c3c" stroke-width="0.08">3.5</text>
<text x="249.90" y="670.04" font-family="Liberation Sans, sans-serif" font-size="7.1" text-anchor="end" fill="#3c3c3c" stroke="#3c3c3c" stroke-width="0.08">3.7</text>
<text x="249.90" y="632.98" font-family="Liberation Sans, sans-serif" font-size="7.1" text-anchor="end" fill="#3c3c3c" stroke="#3c3c3c" stroke-width="0.08">3.9</text>
<text x="249.90" y="595.92" font-family="Liberation Sans, sans-serif" font-size="7.1" text-anchor="end" fill="#3c3c3c" stroke="#3c3c3c" stroke-width="0.08">4.1</text>
<text x="249.90" y="558.86" font-family="Liberation Sans, sans-serif" font-size="7.1" text-anchor="end" fill="#3c3c3c" stroke="#3c3c3c" stroke-width="0.08">4.3</text>
<text x="249.90" y="521.80" font-family="Liberation Sans, sans-serif" font-size="7.1" text-anchor="end" fill="#3c3c3c" stroke="#3c3c3c" stroke-width="0.08">4.5</text>
<text x="260.10" y="713.4" font-family="Liberation Sans, sans-serif" font-size="7.1" text-anchor="middle" fill="#3c3c3c" stroke="#3c3c3c" stroke-width="0.08">28</text>
<text x="427.40" y="713.4" font-family="Liberation Sans, sans-serif" font-size="7.1" text-anchor="middle" fill="#3c3c3c" stroke="#3c3c3c" stroke-width="0.08">90</text>
<text x="344.70" y="722.3" font-family="Liberation Sans, sans-serif" font-size="9.6" text-anchor="middle" fill="#3c3c3c" stroke="#3c3c3c" stroke-width="0.15" textLength="18.2" lengthAdjust="spacingAndGlyphs">days</text>
<text x="344.70" y="529.5" font-family="Liberation Sans, sans-serif" font-size="9.9" text-anchor="middle" fill="#3c3c3c" stroke="#3c3c3c" stroke-width="0.25" textLength="37.4" lengthAdjust="spacingAndGlyphs">50% RAC</text>
<text transform="translate(236.90,609.80) rotate(-90)" font-family="Liberation Sans, sans-serif" font-size="8.6" text-anchor="middle" fill="#3c3c3c" textLength="90.5" lengthAdjust="spacingAndGlyphs">Flexural Strength (MPa)</text>
<rect x="381.70" y="653.5" width="49.10" height="44.80" fill="#fff" stroke="#555" stroke-width="1"/>
<line x1="384.50" x2="399.30" y1="659.80" y2="659.80" stroke="#333333" stroke-width="1.4"/>
<circle cx="391.90" cy="659.80" r="1.8" fill="#333333"/>
<text x="400.50" y="663.50" font-family="Liberation Sans, sans-serif" font-size="6.6" fill="#3c3c3c" stroke="#3c3c3c" stroke-width="0.15">0% LCB</text>
<line x1="384.50" x2="399.30" y1="667.90" y2="667.90" stroke="#b040f0" stroke-width="1.4"/>
<circle cx="391.90" cy="667.90" r="1.8" fill="#b040f0"/>
<text x="400.50" y="671.60" font-family="Liberation Sans, sans-serif" font-size="6.6" fill="#3c3c3c" stroke="#3c3c3c" stroke-width="0.15">5% LCB</text>
<line x1="384.50" x2="399.30" y1="676.00" y2="676.00" stroke="#ee3a48" stroke-width="1.4"/>
<circle cx="391.90" cy="676.00" r="1.8" fill="#ee3a48"/>
<text x="400.50" y="679.70" font-family="Liberation Sans, sans-serif" font-size="6.6" fill="#3c3c3c" stroke="#3c3c3c" stroke-width="0.15">10% LCB</text>
<line x1="384.50" x2="399.30" y1="684.10" y2="684.10" stroke="#58b0f0" stroke-width="1.4"/>
<circle cx="391.90" cy="684.10" r="1.8" fill="#58b0f0"/>
<text x="400.50" y="687.80" font-family="Liberation Sans, sans-serif" font-size="6.6" fill="#3c3c3c" stroke="#3c3c3c" stroke-width="0.15">15% LCB</text>
<line x1="384.50" x2="399.30" y1="692.20" y2="692.20" stroke="#58e838" stroke-width="1.4"/>
<circle cx="391.90" cy="692.20" r="1.8" fill="#58e838"/>
<text x="400.50" y="695.90" font-family="Liberation Sans, sans-serif" font-size="6.6" fill="#3c3c3c" stroke="#3c3c3c" stroke-width="0.15">20% LCB</text>
<line x1="472.4" x2="655.8" y1="685.17" y2="685.17" stroke="#dcdcdc" stroke-width="1" stroke-dasharray="2.2 0.9"/>
<line x1="472.4" x2="655.8" y1="666.64" y2="666.64" stroke="#c8c8c8" stroke-width="1"/>
<line x1="472.4" x2="655.8" y1="648.11" y2="648.11" stroke="#dcdcdc" stroke-width="1" stroke-dasharray="2.2 0.9"/>
<line x1="472.4" x2="655.8" y1="629.58" y2="629.58" stroke="#c8c8c8" stroke-width="1"/>
<line x1="472.4" x2="655.8" y1="611.05" y2="611.05" stroke="#dcdcdc" stroke-width="1" stroke-dasharray="2.2 0.9"/>
<line x1="472.4" x2="655.8" y1="592.52" y2="592.52" stroke="#c8c8c8" stroke-width="1"/>
<line x1="472.4" x2="655.8" y1="573.99" y2="573.99" stroke="#dcdcdc" stroke-width="1" stroke-dasharray="2.2 0.9"/>
<line x1="472.4" x2="655.8" y1="555.46" y2="555.46" stroke="#c8c8c8" stroke-width="1"/>
<line x1="472.4" x2="655.8" y1="536.93" y2="536.93" stroke="#dcdcdc" stroke-width="1" stroke-dasharray="2.2 0.9"/>
<line x1="480.30" y1="643.48" x2="647.60" y2="589.18" stroke="#3a3a58" stroke-width="1.1"/>
<line x1="480.30" y1="629.58" x2="647.60" y2="568.43" stroke="#b040f0" stroke-width="1.1"/>
<line x1="480.30" y1="627.54" x2="647.60" y2="551.75" stroke="#ee3a48" stroke-width="1.1"/>
<line x1="480.30" y1="637.36" x2="647.60" y2="536.93" stroke="#58b0f0" stroke-width="1.1"/>
<line x1="480.30" y1="657.38" x2="647.60" y2="548.42" stroke="#58e838" stroke-width="1.1"/>
<circle cx="480.30" cy="643.48" r="1.8" fill="#3a3a58"/>
<circle cx="647.60" cy="589.18" r="1.8" fill="#3a3a58"/>
<circle cx="480.30" cy="629.58" r="1.8" fill="#b040f0"/>
<circle cx="647.60" cy="568.43" r="1.8" fill="#b040f0"/>
<circle cx="480.30" cy="627.54" r="1.8" fill="#ee3a48"/>
<circle cx="647.60" cy="551.75" r="1.8" fill="#ee3a48"/>
<circle cx="480.30" cy="637.36" r="1.8" fill="#58b0f0"/>
<circle cx="647.60" cy="536.93" r="1.8" fill="#58b0f0"/>
<circle cx="480.30" cy="657.38" r="1.8" fill="#58e838"/>
<circle cx="647.60" cy="548.42" r="1.8" fill="#58e838"/>
<rect x="472.4" y="518.4" width="183.4" height="185.30" fill="none" stroke="#a8a8a8" stroke-width="1.3"/>
<line x1="472.4" x2="472.4" y1="518.4" y2="703.7" stroke="#5a5a5a" stroke-width="1.3"/>
<line x1="472.4" x2="475.4" y1="703.70" y2="703.70" stroke="#555" stroke-width="1"/>
<line x1="652.8" x2="655.8" y1="703.70" y2="703.70" stroke="#555" stroke-width="1"/>
<line x1="472.4" x2="474.4" y1="685.17" y2="685.17" stroke="#555" stroke-width="1"/>
<line x1="653.8" x2="655.8" y1="685.17" y2="685.17" stroke="#555" stroke-width="1"/>
<line x1="472.4" x2="475.4" y1="666.64" y2="666.64" stroke="#555" stroke-width="1"/>
<line x1="652.8" x2="655.8" y1="666.64" y2="666.64" stroke="#555" stroke-width="1"/>
<line x1="472.4" x2="474.4" y1="648.11" y2="648.11" stroke="#555" stroke-width="1"/>
<line x1="653.8" x2="655.8" y1="648.11" y2="648.11" stroke="#555" stroke-width="1"/>
<line x1="472.4" x2="475.4" y1="629.58" y2="629.58" stroke="#555" stroke-width="1"/>
<line x1="652.8" x2="655.8" y1="629.58" y2="629.58" stroke="#555" stroke-width="1"/>
<line x1="472.4" x2="474.4" y1="611.05" y2="611.05" stroke="#555" stroke-width="1"/>
<line x1="653.8" x2="655.8" y1="611.05" y2="611.05" stroke="#555" stroke-width="1"/>
<line x1="472.4" x2="475.4" y1="592.52" y2="592.52" stroke="#555" stroke-width="1"/>
<line x1="652.8" x2="655.8" y1="592.52" y2="592.52" stroke="#555" stroke-width="1"/>
<line x1="472.4" x2="474.4" y1="573.99" y2="573.99" stroke="#555" stroke-width="1"/>
<line x1="653.8" x2="655.8" y1="573.99" y2="573.99" stroke="#555" stroke-width="1"/>
<line x1="472.4" x2="475.4" y1="555.46" y2="555.46" stroke="#555" stroke-width="1"/>
<line x1="652.8" x2="655.8" y1="555.46" y2="555.46" stroke="#555" stroke-width="1"/>
<line x1="472.4" x2="474.4" y1="536.93" y2="536.93" stroke="#555" stroke-width="1"/>
<line x1="653.8" x2="655.8" y1="536.93" y2="536.93" stroke="#555" stroke-width="1"/>
<line x1="472.4" x2="475.4" y1="518.40" y2="518.40" stroke="#555" stroke-width="1"/>
<line x1="652.8" x2="655.8" y1="518.40" y2="518.40" stroke="#555" stroke-width="1"/>
<line x1="480.30" x2="480.30" y1="518.4" y2="521.6" stroke="#555" stroke-width="1"/>
<line x1="480.30" x2="480.30" y1="700.5" y2="703.7" stroke="#555" stroke-width="1"/>
<line x1="647.60" x2="647.60" y1="518.4" y2="521.6" stroke="#555" stroke-width="1"/>
<line x1="647.60" x2="647.60" y1="700.5" y2="703.7" stroke="#555" stroke-width="1"/>
<text x="470.10" y="707.10" font-family="Liberation Sans, sans-serif" font-size="7.1" text-anchor="end" fill="#262626" stroke="#262626" stroke-width="0.08">3.5</text>
<text x="470.10" y="670.04" font-family="Liberation Sans, sans-serif" font-size="7.1" text-anchor="end" fill="#262626" stroke="#262626" stroke-width="0.08">3.7</text>
<text x="470.10" y="632.98" font-family="Liberation Sans, sans-serif" font-size="7.1" text-anchor="end" fill="#262626" stroke="#262626" stroke-width="0.08">3.9</text>
<text x="470.10" y="595.92" font-family="Liberation Sans, sans-serif" font-size="7.1" text-anchor="end" fill="#262626" stroke="#262626" stroke-width="0.08">4.1</text>
<text x="470.10" y="558.86" font-family="Liberation Sans, sans-serif" font-size="7.1" text-anchor="end" fill="#262626" stroke="#262626" stroke-width="0.08">4.3</text>
<text x="470.10" y="521.80" font-family="Liberation Sans, sans-serif" font-size="7.1" text-anchor="end" fill="#262626" stroke="#262626" stroke-width="0.08">4.5</text>
<text x="480.30" y="713.4" font-family="Liberation Sans, sans-serif" font-size="7.1" text-anchor="middle" fill="#262626" stroke="#262626" stroke-width="0.08">28</text>
<text x="647.60" y="713.4" font-family="Liberation Sans, sans-serif" font-size="7.1" text-anchor="middle" fill="#262626" stroke="#262626" stroke-width="0.08">90</text>
<text x="564.90" y="722.3" font-family="Liberation Sans, sans-serif" font-size="9.6" text-anchor="middle" fill="#262626" stroke="#262626" stroke-width="0.15" textLength="18.2" lengthAdjust="spacingAndGlyphs">days</text>
<text x="564.90" y="529.5" font-family="Liberation Sans, sans-serif" font-size="9.9" text-anchor="middle" fill="#262626" stroke="#262626" stroke-width="0.25" textLength="41.6" lengthAdjust="spacingAndGlyphs">100% RAC</text>
<text transform="translate(457.10,609.80) rotate(-90)" font-family="Liberation Sans, sans-serif" font-size="8.6" text-anchor="middle" fill="#262626" textLength="90.5" lengthAdjust="spacingAndGlyphs">Flexural Strength (MPa)</text>
<rect x="601.90" y="653.5" width="49.10" height="44.80" fill="#fff" stroke="#555" stroke-width="1"/>
<line x1="604.70" x2="619.50" y1="659.80" y2="659.80" stroke="#3a3a58" stroke-width="1.4"/>
<circle cx="612.10" cy="659.80" r="1.8" fill="#3a3a58"/>
<text x="620.70" y="663.50" font-family="Liberation Sans, sans-serif" font-size="6.6" fill="#262626" stroke="#262626" stroke-width="0.15">0% LCB</text>
<line x1="604.70" x2="619.50" y1="667.90" y2="667.90" stroke="#b040f0" stroke-width="1.4"/>
<circle cx="612.10" cy="667.90" r="1.8" fill="#b040f0"/>
<text x="620.70" y="671.60" font-family="Liberation Sans, sans-serif" font-size="6.6" fill="#262626" stroke="#262626" stroke-width="0.15">5%LCB</text>
<line x1="604.70" x2="619.50" y1="676.00" y2="676.00" stroke="#ee3a48" stroke-width="1.4"/>
<circle cx="612.10" cy="676.00" r="1.8" fill="#ee3a48"/>
<text x="620.70" y="679.70" font-family="Liberation Sans, sans-serif" font-size="6.6" fill="#262626" stroke="#262626" stroke-width="0.15">10% LCB</text>
<line x1="604.70" x2="619.50" y1="684.10" y2="684.10" stroke="#58b0f0" stroke-width="1.4"/>
<circle cx="612.10" cy="684.10" r="1.8" fill="#58b0f0"/>
<text x="620.70" y="687.80" font-family="Liberation Sans, sans-serif" font-size="6.6" fill="#262626" stroke="#262626" stroke-width="0.15">15% LCB</text>
<line x1="604.70" x2="619.50" y1="692.20" y2="692.20" stroke="#58e838" stroke-width="1.4"/>
<circle cx="612.10" cy="692.20" r="1.8" fill="#58e838"/>
<text x="620.70" y="695.90" font-family="Liberation Sans, sans-serif" font-size="6.6" fill="#262626" stroke="#262626" stroke-width="0.15">20% LCB</text>
</svg></body></html>
